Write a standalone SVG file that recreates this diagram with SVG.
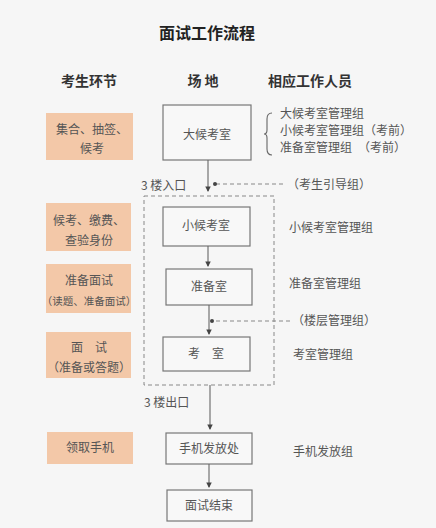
<svg xmlns="http://www.w3.org/2000/svg" width="436" height="528" viewBox="0 0 436 528">
<style>
text{font-family:"Noto Sans CJK SC",sans-serif;fill:#555;}
.title{font-size:16px;font-weight:bold;fill:#222;}
.hdr{font-size:14px;font-weight:bold;fill:#333;}
.t{font-size:12px;}
.s{font-size:10.5px;}
.box{fill:#f8f8f8;stroke:#777;stroke-width:1.2;}
.ob{fill:#f3c8a8;stroke:none;}
.ln{stroke:#666;stroke-width:1.1;fill:none;}
.dl{stroke:#888;stroke-width:1;stroke-dasharray:4 3;fill:none;}
</style>
<defs>
<marker id="ah" viewBox="0 0 6 6" refX="5" refY="3" markerWidth="5" markerHeight="5" orient="auto"><path d="M0,0 L6,3 L0,6 z" fill="#444"/></marker>
<marker id="dot" viewBox="0 0 6 6" refX="3" refY="3" markerWidth="4" markerHeight="4"><circle cx="3" cy="3" r="3" fill="#444"/></marker>
</defs>
<rect width="436" height="528" fill="#f6f6f6"/>
<text class="title" x="207" y="39" text-anchor="middle">面试工作流程</text>
<text class="hdr" x="89" y="86" text-anchor="middle">考生环节</text>
<text class="hdr" x="203" y="86" text-anchor="middle">场 地</text>
<text class="hdr" x="310" y="86" text-anchor="middle">相应工作人员</text>

<g id="stage1"><rect class="ob" x="46" y="113" width="87" height="47"/><text class="t" x="92" y="134" text-anchor="middle">集合、抽签、</text><text class="t" x="92" y="153" text-anchor="middle">候考</text></g>
<g id="stage2"><rect class="ob" x="46" y="203" width="85" height="48"/><text class="t" x="89" y="225" text-anchor="middle">候考、缴费、</text><text class="t" x="89" y="245" text-anchor="middle">查验身份</text></g>
<g id="stage3"><rect class="ob" x="46" y="264" width="85" height="49"/><text class="t" x="89" y="285" text-anchor="middle">准备面试</text><text class="s" x="89" y="305" text-anchor="middle">（读题、准备面试）</text></g>
<g id="stage4"><rect class="ob" x="46" y="332" width="85" height="46"/><text class="t" x="89" y="352" text-anchor="middle">面　试</text><text class="t" x="89" y="372" text-anchor="middle">（准备或答题）</text></g>
<g id="stage5"><rect class="ob" x="47" y="432" width="86" height="32"/><text class="t" x="90" y="452" text-anchor="middle">领取手机</text></g>

<g id="area" ><rect class="dl" x="144" y="196" width="130" height="189" stroke-dasharray="2 2"/></g>

<g id="dahoukaoshi"><rect class="box" x="163" y="105" width="88" height="55"/><text class="t" x="207" y="139" text-anchor="middle">大候考室</text></g>
<g id="xiaohoukaoshi"><rect class="box" x="163" y="207" width="87" height="39"/><text class="t" x="206" y="230" text-anchor="middle">小候考室</text></g>
<g id="zhunbeishi"><rect class="box" x="166" y="269" width="86" height="36"/><text class="t" x="209" y="291" text-anchor="middle">准备室</text></g>
<g id="kaoshi"><rect class="box" x="163" y="337" width="87" height="34"/><text class="t" x="206" y="358" text-anchor="middle">考　室</text></g>
<g id="shouji"><rect class="box" x="166" y="433" width="86" height="31"/><text class="t" x="209" y="453" text-anchor="middle">手机发放处</text></g>
<g id="jieshu"><rect class="box" x="167" y="490" width="85" height="31"/><text class="t" x="209" y="510" text-anchor="middle">面试结束</text></g>

<g id="staff">
<path class="ln" d="M272,113 Q267,113 267,119 L267,130 Q267,134 264,134 Q267,134 267,138 L267,149 Q267,155 272,155" stroke-width="0.9"/>
<text class="t" x="280" y="118">大候考室管理组</text>
<text class="t" x="280" y="135">小候考室管理组（考前）</text>
<text class="t" x="280" y="152">准备室管理组　（考前）</text>
<text class="t" x="287" y="189">（考生引导组）</text>
<text class="t" x="289" y="232">小候考室管理组</text>
<text class="t" x="289" y="288">准备室管理组</text>
<text class="t" x="292" y="325">（楼层管理组）</text>
<text class="t" x="293" y="359">考室管理组</text>
<text class="t" x="293" y="456">手机发放组</text>
</g>
<text class="t" x="141" y="190">3 楼入口</text>
<text class="t" x="144" y="407">3 楼出口</text>

<g id="connectors">
<line class="ln" x1="208" y1="160" x2="208" y2="191" marker-end="url(#ah)"/>
<line class="ln" x1="208" y1="246" x2="208" y2="266" marker-end="url(#ah)"/>
<line class="ln" x1="209" y1="305" x2="209" y2="334" marker-end="url(#ah)"/>
<line class="ln" x1="210" y1="385" x2="210" y2="429" marker-end="url(#ah)"/>
<line class="ln" x1="209" y1="464" x2="209" y2="487" marker-end="url(#ah)"/>
<line class="dl" x1="283" y1="184" x2="215" y2="184" marker-end="url(#dot)"/>
<line class="dl" x1="290" y1="321" x2="212" y2="321" marker-end="url(#dot)"/>
</g>
</svg>
